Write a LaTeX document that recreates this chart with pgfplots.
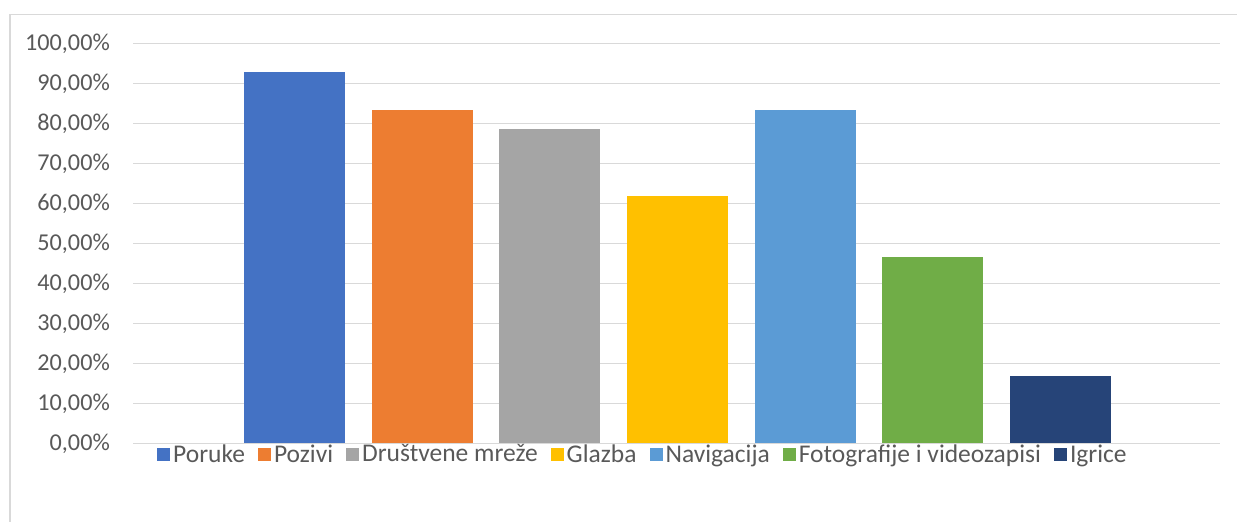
\documentclass[border=0pt]{standalone}
\usepackage{pgfplots}
\pgfplotsset{compat=1.18}
\usepackage{fontspec}
\setmainfont{Carlito}
\definecolor{c1}{HTML}{4472C4}
\definecolor{c2}{HTML}{ED7D31}
\definecolor{c3}{HTML}{A5A5A5}
\definecolor{c4}{HTML}{FFC000}
\definecolor{c5}{HTML}{5B9BD5}
\definecolor{c6}{HTML}{70AD47}
\definecolor{c7}{HTML}{264478}
\definecolor{gridc}{HTML}{D9D9D9}
\definecolor{txt}{HTML}{595959}
\begin{document}
\begin{tikzpicture}[x=1pt,y=1pt]
\path[use as bounding box] (0,0) rectangle (1237,522);
\draw[gridc, line width=1.5pt] (10,0) -- (10,507.5) -- (1240,507.5);
\begin{axis}[
  at={(133pt,78.7pt)}, anchor=south west,
  scale only axis, width=1087pt, height=400pt,
  xmin=-1.265, xmax=7.249, ymin=0, ymax=100,
  xtick=\empty,
  ytick={0,10,...,100},
  yticklabels={{0,00\%},{10,00\%},{20,00\%},{30,00\%},{40,00\%},{50,00\%},{60,00\%},{70,00\%},{80,00\%},{90,00\%},{100,00\%}},
  yticklabel style={font=\fontsize{24.2}{29}\selectfont, text=txt, inner sep=0pt, anchor=base east, xshift=-23pt, yshift=-7.7pt},
  major tick length=0pt,
  axis line style={draw=none},
  ymajorgrids, grid style={gridc, line width=1.5pt},
  legend columns=7,
  legend style={at={(axis description cs:0.0221,-0.0268)}, anchor=west, draw=none, fill=none,
    font=\fontsize{25.5}{30}\selectfont, text=txt, inner sep=0pt,
    nodes={inner sep=3pt},
    /tikz/every even column/.append style={column sep=10pt}},
  legend image code/.code={\fill[#1] (0pt,-6.5pt) rectangle (13pt,6.5pt);},
]
\addplot[ybar, bar width=101pt, bar shift=0pt, fill=c1, draw=none] coordinates {(0,92.86)};
\addlegendentry{Poruke}
\addplot[ybar, bar width=101pt, bar shift=0pt, fill=c2, draw=none] coordinates {(1,83.33)};
\addlegendentry{Pozivi}
\addplot[ybar, bar width=101pt, bar shift=0pt, fill=c3, draw=none] coordinates {(2,78.57)};
\addlegendentry{Društvene mreže}
\addplot[ybar, bar width=101pt, bar shift=0pt, fill=c4, draw=none] coordinates {(3,61.90)};
\addlegendentry{Glazba}
\addplot[ybar, bar width=101pt, bar shift=0pt, fill=c5, draw=none] coordinates {(4,83.33)};
\addlegendentry{Navigacija}
\addplot[ybar, bar width=101pt, bar shift=0pt, fill=c6, draw=none] coordinates {(5,46.60)};
\addlegendentry{Fotografije i videozapisi}
\addplot[ybar, bar width=101pt, bar shift=0pt, fill=c7, draw=none] coordinates {(6,16.75)};
\addlegendentry{Igrice}
\end{axis}
\end{tikzpicture}
\end{document}
